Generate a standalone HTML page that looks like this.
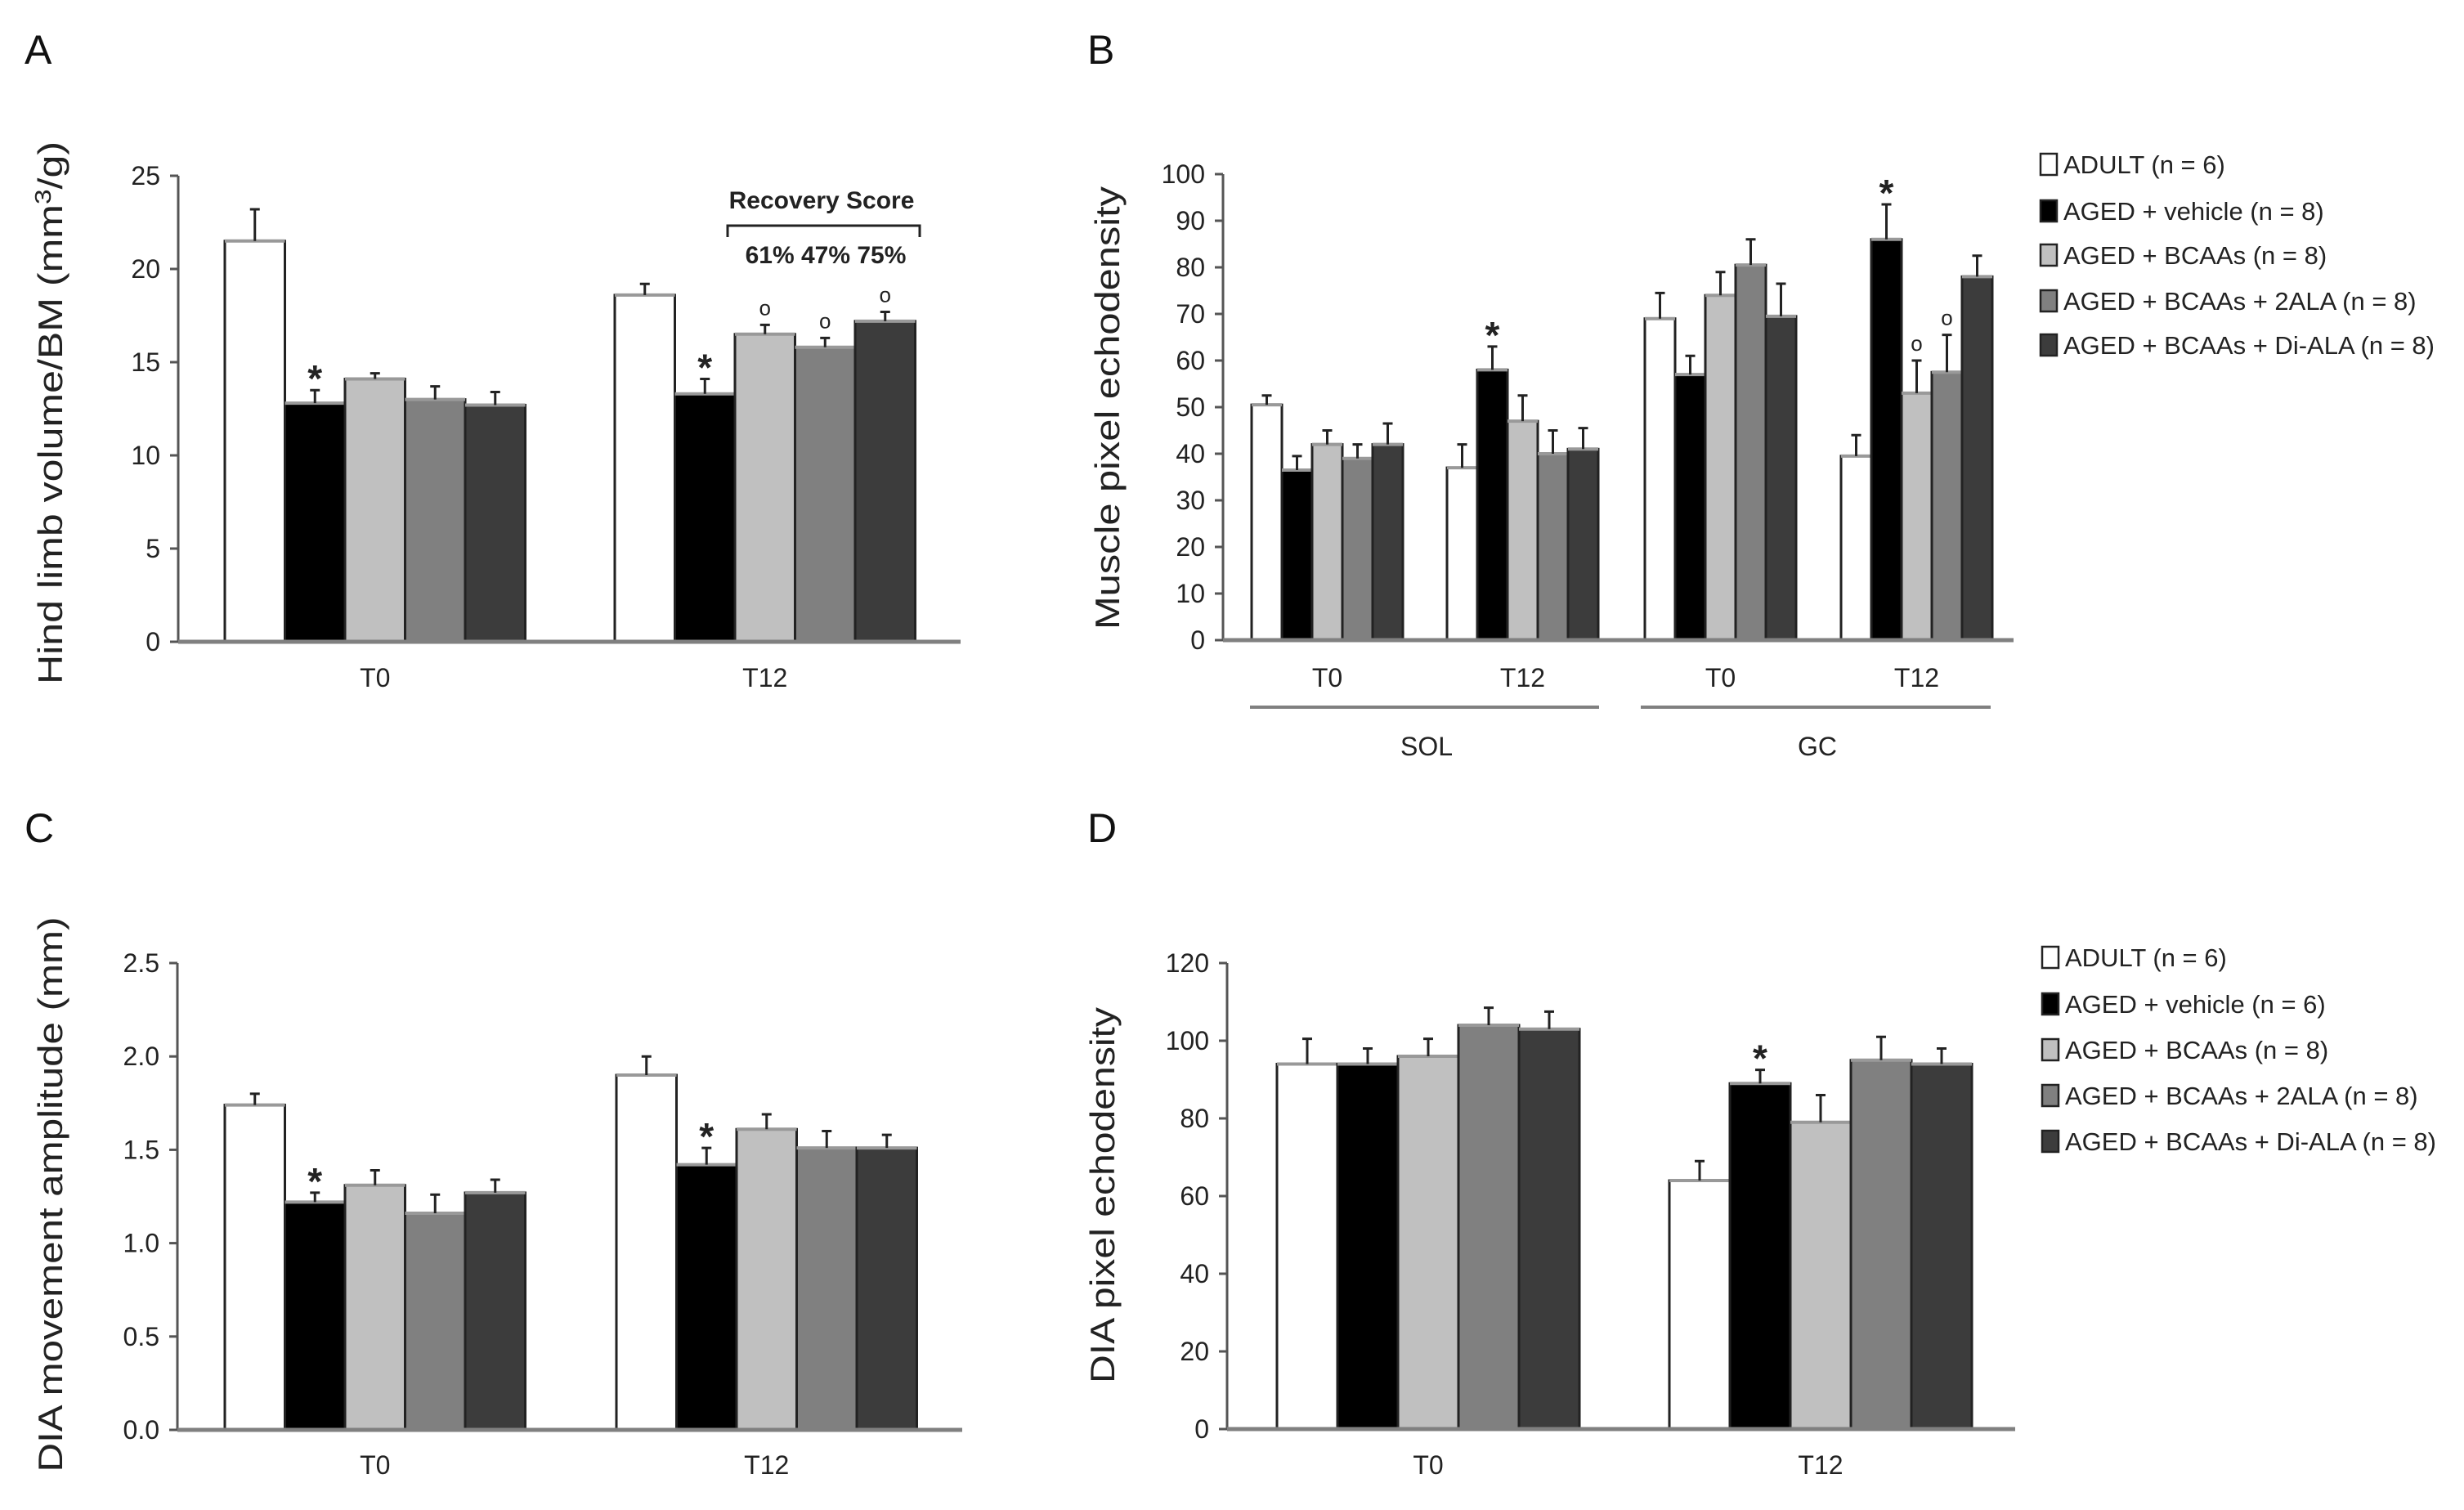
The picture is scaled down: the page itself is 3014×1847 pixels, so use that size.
<!DOCTYPE html>
<html><head><meta charset="utf-8"><style>
html,body{margin:0;padding:0;background:#fff;}
svg{display:block;font-family:"Liberation Sans",sans-serif;}
</style></head><body>
<svg id="fig" width="3014" height="1847" viewBox="0 0 3014 1847" xmlns="http://www.w3.org/2000/svg"></svg>
<script>
// ---- data ----
const groupColors = ["#ffffff","#000000","#c0c0c0","#808080","#3c3c3c"];
const legendLabelsB = ["ADULT (n = 6)","AGED + vehicle (n = 8)","AGED + BCAAs (n = 8)","AGED + BCAAs + 2ALA (n = 8)","AGED + BCAAs + Di-ALA (n = 8)"];
const legendLabelsD = ["ADULT (n = 6)","AGED + vehicle (n = 6)","AGED + BCAAs (n = 8)","AGED + BCAAs + 2ALA (n = 8)","AGED + BCAAs + Di-ALA (n = 8)"];

const catsA = ["T0","T12"];
const valsA = [[21.5,12.8,14.1,13.0,12.7],[18.6,13.3,16.5,15.8,17.2]];
const errA  = [[1.7,0.7,0.3,0.7,0.7],[0.6,0.8,0.5,0.5,0.5]];
const marksA = [["","*","","",""],["","*","o","o","o"]];
const ticksA = [0,5,10,15,20,25];

const catsB = ["T0","T12","T0","T12"];
const valsB = [[50.5,36.5,42,39,42],[37,58,47,40,41],[69,57,74,80.5,69.5],[39.5,86,53,57.5,78]];
const errB  = [[2,3,3,3,4.5],[5,5,5.5,5,4.5],[5.5,4,5,5.5,7],[4.5,7.5,7,8,4.5]];
const marksB = [["","","","",""],["","*","","",""],["","","","",""],["","*","o","o",""]];
const ticksB = [0,10,20,30,40,50,60,70,80,90,100];

const catsC = ["T0","T12"];
const valsC = [[1.74,1.22,1.31,1.16,1.27],[1.90,1.42,1.61,1.51,1.51]];
const errC  = [[0.06,0.05,0.08,0.10,0.07],[0.10,0.09,0.08,0.09,0.07]];
const marksC = [["","*","","",""],["","*","","",""]];
const ticksC = ["0.0","0.5","1.0","1.5","2.0","2.5"];

const catsD = ["T0","T12"];
const valsD = [[94,94,96,104,103],[64,89,79,95,94]];
const errD  = [[6.5,4,4.5,4.5,4.5],[5,3.5,7,6,4]];
const marksD = [["","","","",""],["","*","","",""]];
const ticksD = [0,20,40,60,80,100,120];

const NS="http://www.w3.org/2000/svg";
const svg=document.getElementById('fig');
function mk(tag,attrs,parent){const e=document.createElementNS(NS,tag);for(const k in attrs)e.setAttribute(k,attrs[k]);(parent||svg).appendChild(e);return e;}

function panel(p){
  const g=mk('g',{});
  
  
  const t0=p.ticks[0]*1, tN=p.ticks[p.ticks.length-1]*1;
  const y=v=>p.y0-(v-t0)/(tN-t0)*(p.y0-p.yTop);
  const L=mk('text',{x:p.letterX,y:p.letterY,'font-size':50,fill:'#111'},g);L.textContent=p.letter;
  
  
  const T=mk('text',{x:0,y:0,'font-size':42,fill:'#222','text-anchor':'middle',transform:`translate(${p.titleX},${p.titleCy}) rotate(-90)`,textLength:p.titleLen,lengthAdjust:'spacingAndGlyphs'},g);
  
  
  if(p.titleHtml){T.innerHTML=p.titleHtml;}else T.textContent=p.title;
  p.ticks.forEach(tv=>{
    const yy=y(tv*1);
    const tl=mk('line',{x1:p.x0-10,x2:p.x0,y1:yy,y2:yy,stroke:'#555','stroke-width':3},g);
    
    
    const tt=mk('text',{x:p.x0-22,y:yy+11,'font-size':32,fill:'#222','text-anchor':'end'},g);
    
    
    tt.textContent=String(tv);
  });
  p.vals.forEach((grp,gi)=>{
    const gx=p.groupX[gi];
    grp.forEach((v,i)=>{
      const bx=gx+i*p.bw, by=y(v), h=p.y0-by;
      const r=mk('rect',{x:bx,y:by,width:p.bw,height:h,fill:groupColors[i],stroke:'#222','stroke-width':3},g);
      
      
      mk('line',{x1:bx,x2:bx+p.bw,y1:by,y2:by,stroke:'#999','stroke-width':4},g);
      const ey=y(v+p.err[gi][i]), cx=bx+p.bw/2;
      const e=mk('path',{d:`M${cx},${by}V${ey}M${cx-6},${ey}H${cx+6}`,stroke:'#222','stroke-width':3,fill:'none'},g);
      
      
      const m=p.marks[gi][i];
      if(m){
        const s=mk('text',{x:cx,y:m==='*'?ey+2:ey-12,'font-size':m==='*'?46:26,'font-weight':m==='*'?'bold':'normal',fill:'#222','text-anchor':'middle'},g);
        
        
        s.textContent=m;
      }
    });
    const cl=mk('text',{x:gx+p.bw*2.5,y:p.catY,'font-size':32,fill:'#222','text-anchor':'middle'},g);
    
    
    cl.textContent=p.cats[gi];
  });
  const ya=mk('line',{x1:p.x0,x2:p.x0,y1:p.yTop,y2:p.y0,stroke:'#555','stroke-width':3},g);
  
  
  const xa=mk('line',{x1:p.x0,x2:p.x1,y1:p.y0,y2:p.y0,stroke:'#808080','stroke-width':5},g);
  
  
  return g;
}

function legend(labels,x,ys){
  const g=mk('g',{});
  
  
  labels.forEach((lb,i)=>{
    const r=mk('rect',{x:x,y:ys[i]-13,width:20,height:26,fill:groupColors[i],stroke:'#222','stroke-width':2.5},g);
    
    
    const t=mk('text',{x:x+28,y:ys[i]+11,'font-size':31,fill:'#222'},g);
    
    
    t.textContent=lb;
  });
}

panel({name:'panel-a',letter:'A',letterX:30,letterY:78,title:'',titleHtml:'Hind limb volume/BM (mm<tspan dy="-14" font-size="28">3</tspan><tspan dy="14">/g)</tspan>',titleX:76,titleCy:505,titleLen:664,
  x0:218,x1:1175,y0:785,yTop:215,ticks:ticksA,vals:valsA,err:errA,marks:marksA,cats:catsA,groupX:[275,752],bw:73.5,catY:840});
panel({name:'panel-b',letter:'B',letterX:1330,letterY:78,title:'Muscle pixel echodensity',titleX:1369,titleCy:499,titleLen:542,
  x0:1496,x1:2463,y0:783,yTop:213,ticks:ticksB,vals:valsB,err:errB,marks:marksB,cats:catsB,groupX:[1531,1770,2012,2252],bw:37,catY:840});
panel({name:'panel-c',letter:'C',letterX:30,letterY:1030,title:'DIA movement amplitude (mm)',titleX:76,titleCy:1461,titleLen:679,
  x0:217,x1:1177,y0:1749,yTop:1178,ticks:ticksC,vals:valsC,err:errC,marks:marksC,cats:catsC,groupX:[275,754],bw:73.5,catY:1803});
panel({name:'panel-d',letter:'D',letterX:1330,letterY:1030,title:'DIA pixel echodensity',titleX:1363,titleCy:1462,titleLen:460,
  x0:1501,x1:2465,y0:1748,yTop:1178,ticks:ticksD,vals:valsD,err:errD,marks:marksD,cats:catsD,groupX:[1562,2042],bw:74,catY:1803});

const rs=mk('g',{});


mk('path',{d:'M890,290V276H1125V290',stroke:'#222','stroke-width':3,fill:'none'},rs);
const rst=mk('text',{x:1005,y:255,'font-size':30,'font-weight':'bold',fill:'#222','text-anchor':'middle'},rs);rst.textContent='Recovery Score';
const rsp=mk('text',{x:1010,y:322,'font-size':30,'font-weight':'bold',fill:'#222','text-anchor':'middle'},rs);rsp.textContent='61% 47% 75%';

[[1529,1956,'SOL',1745],[2007,2435,'GC',2223]].forEach(d=>{
  const l=mk('line',{x1:d[0],x2:d[1],y1:865,y2:865,stroke:'#808080','stroke-width':4});
  
  
  const t=mk('text',{x:d[3],y:924,'font-size':32,fill:'#222','text-anchor':'middle'});
  
  
  t.textContent=d[2];
});

legend(legendLabelsB,2496,[201,258,312,368,422]);
legend(legendLabelsD,2498,[1171,1228,1284,1340,1396]);
</script>
</body></html>
